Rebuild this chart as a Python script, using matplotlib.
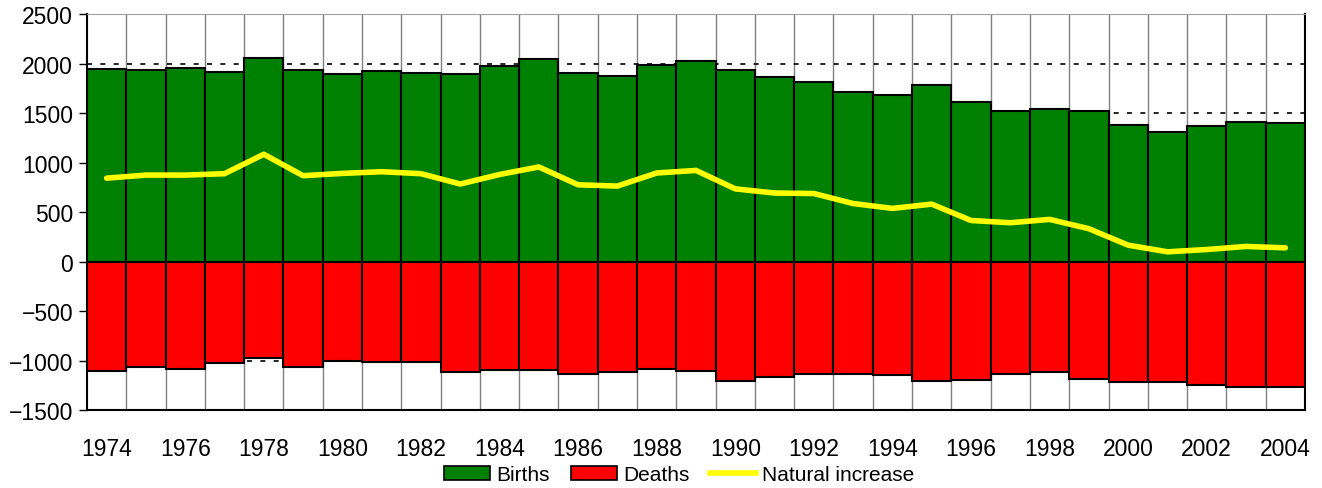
import numpy as np
import matplotlib
matplotlib.use('Agg')
import matplotlib.pyplot as plt
from matplotlib.lines import Line2D
from matplotlib.patches import Patch

plt.rcParams['font.family'] = ['Liberation Sans', 'DejaVu Sans']

years = list(range(1974, 2005))
births = [1944, 1934, 1954, 1911, 2052, 1931, 1897, 1921, 1904, 1891,
          1971, 2048, 1907, 1877, 1982, 2025, 1937, 1861, 1816, 1715,
          1679, 1783, 1608, 1524, 1538, 1518, 1379, 1312, 1369, 1413, 1399]
deaths = [-1100, -1059, -1079, -1022, -972, -1062, -1005, -1012, -1015, -1110,
          -1090, -1093, -1130, -1113, -1086, -1103, -1201, -1167, -1127, -1127,
          -1140, -1201, -1191, -1130, -1110, -1184, -1211, -1211, -1245, -1258, -1258]
natural = [844, 875, 875, 889, 1085, 869, 892, 909, 889, 785,
           881, 957, 777, 764, 896, 922, 736, 694, 689, 588,
           539, 582, 417, 394, 428, 334, 168, 101, 124, 155, 141]

fig = plt.figure(figsize=(13.22, 4.89), dpi=100)
ax = fig.add_axes([0.0658, 0.1585, 0.9213, 0.8108])

X = np.arange(len(years))
ax.bar(X, births, width=1.0, color='#008000', edgecolor='black', linewidth=1.5, zorder=3)
ax.bar(X, deaths, width=1.0, color='#FF0000', edgecolor='black', linewidth=1.5, zorder=3)
ax.plot(X, natural, color='#FFFF00', linewidth=4, zorder=4, solid_capstyle='round')

ax.set_xlim(-0.5, len(years) - 0.5)
ax.set_ylim(-1500, 2500)
ax.set_yticks(np.arange(-1500, 2501, 500))
ax.set_xticks(X[::2])
ax.set_xticklabels([str(y) for y in years[::2]])
ax.set_xticks(X[:-1] + 0.5, minor=True)

ax.grid(axis='y', which='major', color='black', linestyle=(0, (3, 5)), linewidth=1.2, zorder=1)
ax.grid(axis='x', which='minor', color='#808080', linewidth=1, zorder=1)
ax.set_axisbelow(True)

ax.tick_params(axis='x', which='both', length=0, pad=19, labelsize=16.5)
ax.tick_params(axis='y', length=6, width=1, labelsize=16.5, pad=4)
for s in ['left', 'right', 'bottom']:
    ax.spines[s].set_linewidth(1.5)
ax.spines['top'].set_color('#a0a0a0')

handles = [Patch(facecolor='#008000', edgecolor='black', linewidth=1.2),
           Patch(facecolor='#FF0000', edgecolor='black', linewidth=1.2),
           Line2D([0], [0], color='#FFFF00', linewidth=4)]
fig.legend(handles, ['Births', 'Deaths', 'Natural increase'], loc='center',
           bbox_to_anchor=(0.514, 0.027), ncol=3, frameon=False, fontsize=15,
           handlelength=2.2, handletextpad=0.3, columnspacing=1.0)

fig.savefig('out.png', dpi=100)
